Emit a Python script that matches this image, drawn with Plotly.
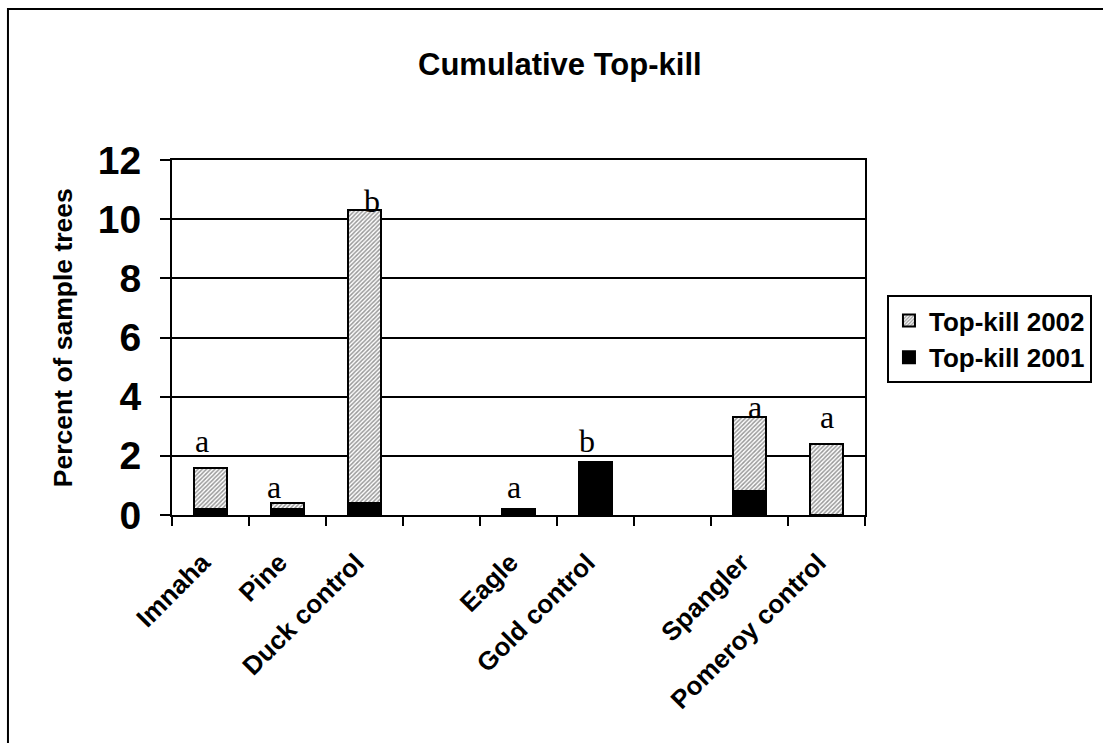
import plotly.graph_objects as go

categories = ["Imnaha", "Pine", "Duck control", " ", "Eagle", "Gold control", "  ", "Spangler", "Pomeroy control"]
topkill_2001 = [0.2, 0.2, 0.4, None, 0.2, 1.8, None, 0.8, 0]
topkill_2002 = [1.4, 0.2, 9.9, None, 0, 0, None, 2.5, 2.4]

letter_cats = ["Imnaha", "Pine", "Duck control", "Eagle", "Gold control", "Spangler", "Pomeroy control"]
letters = ["a", "a", "b", "a", "b", "a", "a"]
letter_y = [2.5, 0.95, 10.6, 0.95, 2.5, 3.65, 3.3]
letter_xshift = [-9, -14, 7, -5, -9, 5, 0]

y_ticks = [0, 2, 4, 6, 8, 10, 12]

FONT = "Arial, Liberation Sans, sans-serif"

fig = go.Figure()
fig.add_trace(go.Bar(
    x=categories, y=topkill_2001, name="Top-kill 2001",
    marker=dict(color="black", line=dict(color="black", width=2)),
))
fig.add_trace(go.Bar(
    x=categories, y=topkill_2002, name="Top-kill 2002",
    marker=dict(color="white", line=dict(color="black", width=2),
                pattern=dict(shape="/", fgcolor="#333333", bgcolor="white", size=3, solidity=0.5)),
))

annotations = []
for c, t, yy, xs in zip(letter_cats, letters, letter_y, letter_xshift):
    annotations.append(dict(x=c, y=yy, text=t, showarrow=False, xshift=xs,
                            xanchor="center", yanchor="middle",
                            font=dict(family="Times New Roman, Liberation Serif, serif", size=32, color="black")))

annotations.append(dict(xref="paper", yref="paper", x=0.56, y=1.27, text="<b>Cumulative Top-kill</b>",
                        showarrow=False, xanchor="center", yanchor="middle",
                        font=dict(family=FONT, size=31, color="black")))
annotations.append(dict(xref="paper", yref="paper", x=-0.157, y=0.4986, text="<b>Percent of sample trees</b>",
                        showarrow=False, xanchor="center", yanchor="middle", textangle=-90,
                        font=dict(family=FONT, size=26.5, color="black")))

fig.update_layout(
    width=1103, height=743,
    margin=dict(l=172, r=238, t=160, b=228, autoexpand=False),
    paper_bgcolor="white", plot_bgcolor="white",
    barmode="stack", bargap=0.58,
    showlegend=True,
    legend=dict(x=1.0317, y=0.6197, xanchor="left", yanchor="top",
                bordercolor="black", borderwidth=2, bgcolor="white",
                traceorder="reversed",
                font=dict(family=FONT, size=26, color="black", weight="bold")),
    annotations=annotations,
    shapes=[dict(type="rect", xref="paper", yref="paper",
                 x0=-0.2367, x1=1.5, y0=-0.8, y1=1.4254,
                 line=dict(color="black", width=2), fillcolor="rgba(0,0,0,0)", layer="below")],
)

fig.update_xaxes(
    type="category", categoryorder="array", categoryarray=categories,
    showline=True, linecolor="black", linewidth=2, mirror=True,
    ticks="outside", tickson="boundaries", ticklen=9, tickwidth=2, tickcolor="black",
    tickangle=-45, showgrid=False, ticklabelstandoff=20, ticklabelshift=-8,
    tickfont=dict(family=FONT, size=26, color="black", weight="bold"),
)
fig.update_yaxes(
    range=[0, 12], tickvals=y_ticks,
    showline=True, linecolor="black", linewidth=2, mirror=True,
    ticks="outside", ticklen=10, tickwidth=2, tickcolor="black",
    showgrid=True, gridcolor="black", gridwidth=2, zeroline=False,
    ticklabelstandoff=11,
    tickfont=dict(family=FONT, size=39, color="black", weight="bold"),
)

fig.write_html("out.html", config={"displayModeBar": False},
               post_script="document.body.style.margin='0';document.body.style.overflow='hidden';")
